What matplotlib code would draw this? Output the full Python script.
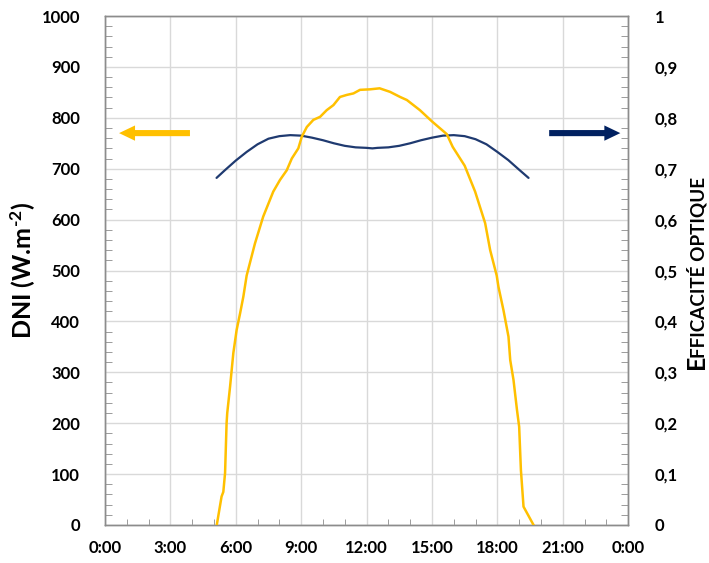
import matplotlib

matplotlib.use("Agg")
import matplotlib.pyplot as plt
from matplotlib.ticker import MultipleLocator, FuncFormatter

# DNI (W/m2) vs hour of day
dni_hours = [5.13, 5.35, 5.43, 5.51, 5.58, 5.61, 5.74, 5.89, 6.04, 6.20, 6.35,
             6.50, 6.88, 7.26, 7.72, 8.03, 8.34, 8.57, 8.87, 9.03, 9.26, 9.56,
             9.87, 10.17, 10.48, 10.78, 11.09, 11.40, 11.70, 12.16, 12.60,
             13.08, 13.54, 13.85, 14.45, 15.00, 15.68, 15.95, 16.50, 16.98,
             17.44, 17.67, 17.97, 18.05, 18.28, 18.51, 18.59, 18.74, 18.90,
             19.00, 19.08, 19.20, 19.66]
dni_values = [0, 56, 65, 102, 200, 220, 272, 338, 383, 416, 449,
              490, 553, 606, 655, 678, 697, 720, 740, 763, 782, 796,
              802, 815, 825, 841, 845, 848, 855, 856, 858,
              851, 841, 835, 815, 793, 768, 743, 706, 655,
              593, 540, 490, 468, 422, 370, 324, 285, 226,
              193, 108, 36, 0]

# optical efficiency vs hour of day
eff_hours = [5.12, 5.5, 6.0, 6.5, 7.0, 7.5, 8.0, 8.5, 9.0, 9.5, 10.0, 10.5,
             11.0, 11.5, 12.0, 12.27, 12.5, 13.0, 13.5, 14.0, 14.5, 15.0,
             15.5, 16.0, 16.5, 17.0, 17.5, 18.0, 18.5, 19.0, 19.43]
eff_values = [0.682, 0.697, 0.716, 0.733, 0.748, 0.759, 0.764, 0.766, 0.765,
              0.761, 0.756, 0.750, 0.745, 0.742, 0.741, 0.740, 0.741, 0.742,
              0.745, 0.750, 0.756, 0.761, 0.765, 0.766, 0.764, 0.758, 0.748,
              0.733, 0.717, 0.698, 0.682]

x_ticklabels = ["0:00", "3:00", "6:00", "9:00", "12:00", "15:00", "18:00",
                "21:00", "0:00"]

YELLOW = "#FFC000"
NAVY = "#1F3A70"
ARROW_NAVY = "#002060"
GRID = "#D9D9D9"
SPINE = "#8C8C8C"

plt.rcParams["font.family"] = ["Lato", "DejaVu Sans"]
plt.rcParams["font.weight"] = "bold"
plt.rcParams["mathtext.fontset"] = "custom"
plt.rcParams["mathtext.rm"] = "Lato:bold"
plt.rcParams["mathtext.bf"] = "Lato:bold"
plt.rcParams["mathtext.default"] = "rm"


def eff_fmt(v, _):
    if abs(v) < 1e-9 or abs(v - 1) < 1e-9:
        return f"{int(round(v))}"
    return f"{v:.1f}".replace(".", ",")


fig = plt.figure(figsize=(7.09, 5.63), dpi=100)
ax = fig.add_axes([0.148, 0.0675, 0.738, 0.904])
ax2 = ax.twinx()

ax.set_xlim(0, 24)
ax.set_ylim(0, 1000)
ax2.set_ylim(0, 1)

ax.xaxis.set_minor_locator(MultipleLocator(1))
ax.yaxis.set_major_locator(MultipleLocator(100))
ax.yaxis.set_minor_locator(MultipleLocator(20))
ax2.yaxis.set_major_locator(MultipleLocator(0.1))
ax2.yaxis.set_minor_locator(MultipleLocator(0.02))
ax2.yaxis.set_major_formatter(FuncFormatter(eff_fmt))

ax.set_xticks(range(0, 25, 3))
ax.set_xticklabels(x_ticklabels)

ax.grid(True, which="major", color=GRID, lw=1.0)
ax.set_axisbelow(True)

for a in (ax, ax2):
    for s in a.spines.values():
        s.set_color(SPINE)
        s.set_linewidth(1.0)
ax.tick_params(which="both", direction="in", colors=SPINE, labelcolor="black",
               labelsize=12)
ax.tick_params(which="major", length=0)
ax.tick_params(which="minor", length=4)
ax.tick_params(axis="y", which="minor", length=5)
ax.tick_params(axis="y", pad=18)
ax.tick_params(axis="x", pad=11)
ax2.tick_params(which="both", direction="in", colors=SPINE, labelcolor="black",
                labelsize=12, pad=19)
ax2.tick_params(which="major", length=0)
ax2.tick_params(which="minor", length=5)
for lab in ax.get_xticklabels() + ax.get_yticklabels() + ax2.get_yticklabels():
    lab.set_fontweight("bold")

# efficiency below, DNI above
ax2.plot(eff_hours, eff_values, color=NAVY, lw=1.6, zorder=2,
         solid_capstyle="round")
ax2.plot(dni_hours, dni_values, color=YELLOW, lw=1.8, zorder=3,
         transform=ax.transData)
ax2.set_ylim(0, 1)

ax.set_ylabel("DNI (W.m$^{\\text{-2}}$)", fontsize=18, fontweight="bold")
ax.yaxis.set_label_coords(-0.127, 0.5)

# small-caps style right label: big E then smaller capitals
t_e = fig.text(0.9985, 0.345, "E", rotation=90, fontsize=18, fontweight="bold",
               ha="right", va="bottom")
ax.annotate("FFICACITÉ OPTIQUE", xy=(1, 1), xycoords=t_e,
            xytext=(0, -4), textcoords="offset pixels", rotation=90,
            fontsize=13.6, fontweight="bold", ha="right", va="bottom",
            annotation_clip=False)

# direction arrows
arrow_style = "simple,head_length=1.15,head_width=1.1,tail_width=0.44"
ax.annotate("", xy=(0.027, 0.770), xytext=(0.1625, 0.770),
            xycoords="axes fraction",
            arrowprops=dict(arrowstyle=arrow_style, color=YELLOW,
                            mutation_scale=10, shrinkA=0, shrinkB=0, lw=0))
ax.annotate("", xy=(0.985, 0.770), xytext=(0.849, 0.770),
            xycoords="axes fraction",
            arrowprops=dict(arrowstyle=arrow_style, color=ARROW_NAVY,
                            mutation_scale=10, shrinkA=0, shrinkB=0, lw=0))

fig.savefig("out.png", dpi=100)
